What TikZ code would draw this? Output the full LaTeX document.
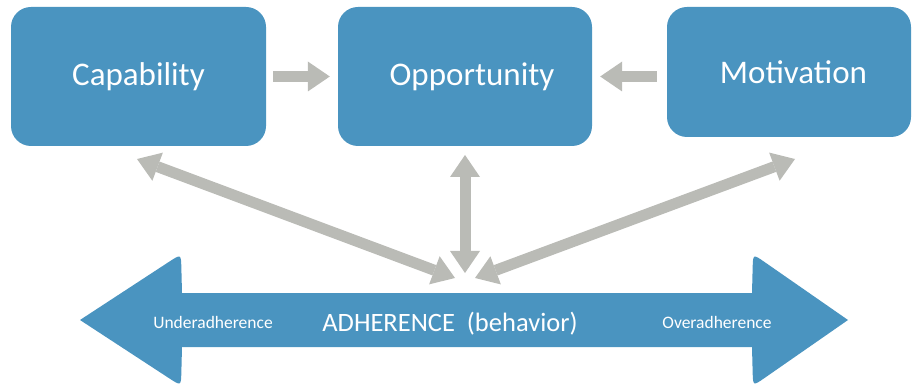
\documentclass[tikz,border=0pt]{standalone}
\usepackage{fontspec}
\setmainfont{Carlito}
\usetikzlibrary{arrows.meta,calc}

\definecolor{boxblue}{RGB}{74,148,192}
\definecolor{arrowgray}{RGB}{186,187,182}

\tikzset{
  factor/.style={draw=none,fill=boxblue,rounded corners=20pt,text=white,
    font=\fontsize{33}{38}\selectfont,inner sep=0pt},
  link/.style={draw=arrowgray,line width=11pt,
    -{Triangle[width=30pt,length=22pt,line width=0pt]}},
  duallink/.style={link,{Triangle[width=30pt,length=22pt,line width=0pt]}-{Triangle[width=30pt,length=22pt,line width=0pt]}},
  smalllabel/.style={text=white,font=\fontsize{17.5}{20}\selectfont,anchor=base}
}

\begin{document}
\begin{tikzpicture}[x=1pt,y=-1pt]

  \useasboundingbox (0,0) rectangle (912,387);

  % Specification of the three boxes
  \node[factor,minimum width=255pt,minimum height=139pt] (cap) at (138.5,76.5) {Capability};
  \node[factor,minimum width=254pt,minimum height=139pt] (opp) at (465,76.5) {\hspace*{14pt}Opportunity};
  \node[factor,minimum width=244pt,minimum height=130pt] (mot) at (789,72) {\hspace*{9pt}Motivation};

  % Free ends of the diagonal arrows
  \coordinate (capd) at (137,159);
  \coordinate (oppd) at (465,155);
  \coordinate (motd) at (795,159);
  \coordinate (hl) at (455,278);
  \coordinate (hm) at (465,273);
  \coordinate (hr) at (475,278);

  % Corners of the adherence band
  \coordinate (lt) at (80,320);
  \coordinate (lbt) at (181,254);
  \coordinate (lst) at (182,293);
  \coordinate (rst) at (752,293);
  \coordinate (rbt) at (753,254);
  \coordinate (rt) at (848,320);
  \coordinate (rbb) at (753,386);
  \coordinate (rsb) at (752,347);
  \coordinate (lsb) at (182,347);
  \coordinate (lbb) at (181,386);

  \fill[boxblue] (lt) -- ($(lbt)!14pt!(lt)$) .. controls (lbt) .. ($(lbt)!14pt!(lst)$)
    -- (lst) -- (rst) -- ($(rbt)!14pt!(rst)$) .. controls (rbt) .. ($(rbt)!14pt!(rt)$)
    -- (rt) -- ($(rbb)!14pt!(rt)$) .. controls (rbb) .. ($(rbb)!14pt!(rsb)$)
    -- (rsb) -- (lsb) -- ($(lbb)!14pt!(lsb)$) .. controls (lbb) .. ($(lbb)!14pt!(lt)$)
    -- cycle;

  \node[smalllabel] (under) at (213,328) {Underadherence};
  \node[text=white,font=\fontsize{26.5}{30}\selectfont,anchor=base] (adh) at (450,331) {ADHERENCE\hspace{12pt}(behavior)};
  \node[smalllabel] (over) at (717,328) {Overadherence};

  \begin{scope}
    \draw[link,shorten <=7pt,shorten >=8pt] (cap) -- (opp);
    \draw[link,shorten <=10pt,shorten >=8pt] (mot.west |- opp) -- (opp.east);
    \draw[duallink] (capd) -- (hl);
    \draw[duallink] (oppd) -- (hm);
    \draw[duallink] (motd) -- (hr);
  \end{scope}

\end{tikzpicture}
\end{document}
